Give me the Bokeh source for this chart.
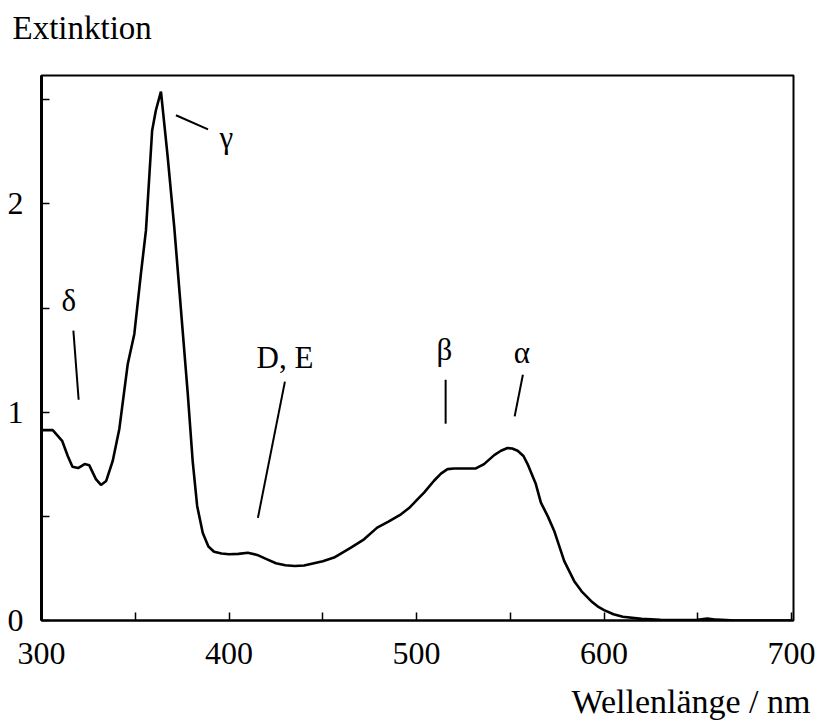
from bokeh.plotting import figure
from bokeh.models import Range1d, FixedTicker, Title
from bokeh.core.properties import value
from bokeh.embed import file_html
from bokeh.resources import INLINE

# ---- data ----
wavelength = [300, 306, 311, 314, 316.5, 319.5, 323, 325.5, 329, 331.7, 334.5, 338, 341.5,
              346, 349.5, 353, 355.7, 359, 361, 363.7, 367.3, 370.8, 374.4, 378, 380.6,
              383, 386, 389, 392, 396, 400, 405, 410, 415, 420, 425, 430, 435, 440, 450,
              456, 465, 472, 479, 485, 491.7, 496, 500.6, 504, 509.3, 513, 516.5, 520,
              523.6, 531.6, 536, 541.4, 545, 548.5, 551, 553.9, 557, 559.2, 563.6, 566.3,
              570, 573.4, 578.7, 584, 588, 593, 597, 600, 605, 610, 620, 630, 640, 650,
              655, 660, 670, 700]
extinction = [0.914, 0.914, 0.863, 0.79, 0.738, 0.732, 0.751, 0.745, 0.679, 0.651, 0.67,
              0.767, 0.92, 1.232, 1.376, 1.664, 1.873, 2.353, 2.45, 2.54, 2.225, 1.888,
              1.488, 1.088, 0.767, 0.55, 0.42, 0.355, 0.33, 0.322, 0.318, 0.32, 0.325,
              0.315, 0.295, 0.275, 0.265, 0.262, 0.264, 0.285, 0.302, 0.35, 0.39, 0.446,
              0.475, 0.51, 0.54, 0.583, 0.614, 0.671, 0.705, 0.727, 0.73, 0.73, 0.73,
              0.751, 0.794, 0.815, 0.828, 0.826, 0.815, 0.79, 0.751, 0.655, 0.566, 0.5,
              0.43, 0.286, 0.19, 0.14, 0.094, 0.065, 0.05, 0.03, 0.018, 0.008, 0.003,
              0.002, 0.003, 0.01, 0.004, 0.0, 0.0]

x_major_ticks = [300, 400, 500, 600, 700]
x_minor_ticks = [350, 450, 550, 650]
y_major_ticks = [0, 1, 2]
y_minor_ticks = [0.5, 1.5, 2.5]

band_names = ["\u03b4", "\u03b3", "D, E", "\u03b2", "\u03b1"]
band_label_x = [314.6, 398.6, 429.8, 514.9, 556.2]
band_label_y = [1.536, 2.32, 1.264, 1.30, 1.288]
lead_x0 = [317.0, 371.7, 429.8, 515.5, 556.7]
lead_y0 = [1.392, 2.426, 1.147, 1.156, 1.180]
lead_x1 = [319.8, 388.8, 415.4, 515.5, 552.3]
lead_y1 = [1.060, 2.358, 0.493, 0.945, 0.980]

FONT = "Liberation Serif"
W, H = 816, 720

p = figure(width=W, height=H, output_backend="svg", toolbar_location=None,
           x_range=Range1d(300, 701), y_range=Range1d(0, 2.617),
           min_border_left=41, min_border_right=W - 793, min_border_top=75,
           min_border_bottom=H - 620)
p.background_fill_color = "white"
p.border_fill_color = "white"
p.outline_line_color = "black"
p.outline_line_width = 2
p.xgrid.visible = False
p.ygrid.visible = False

for ax in (p.xaxis[0], p.yaxis[0]):
    ax.axis_line_color = "black"
    ax.major_tick_in = 8
    ax.major_tick_out = 0
    ax.minor_tick_in = 8
    ax.minor_tick_out = 0
    ax.major_tick_line_width = 1.5
    ax.minor_tick_line_width = 1.5
    ax.major_label_text_font = FONT
    ax.major_label_text_font_size = "32px"
    ax.major_label_text_color = "black"

p.xaxis.ticker = FixedTicker(ticks=x_major_ticks, minor_ticks=x_minor_ticks)
p.yaxis.ticker = FixedTicker(ticks=y_major_ticks, minor_ticks=y_minor_ticks)
p.xaxis.axis_line_width = 2
p.yaxis.axis_line_width = 3
p.xaxis.major_label_standoff = 22
p.yaxis.major_label_standoff = 18

p.line(wavelength, extinction, line_color="black", line_width=2.6)

p.segment(x0=lead_x0, y0=lead_y0, x1=lead_x1, y1=lead_y1, line_color="black", line_width=2)
p.text(x=band_label_x, y=band_label_y, text=band_names, text_font=value(FONT),
       text_font_size="31px", text_align="center", text_baseline="middle",
       text_color="black")

# spacer titles (closest to the frame) push the real titles outward
p.add_layout(Title(text=" ", standoff=22, text_font=FONT, text_font_size="4px"), "above")
p.add_layout(Title(text="Extinktion", align="left", offset=-29, standoff=2,
                   text_font=FONT, text_font_size="33px", text_font_style="normal",
                   text_color="black"), "above")
p.add_layout(Title(text=" ", standoff=7, text_font=FONT, text_font_size="4px"), "below")
p.add_layout(Title(text="Wellenl\u00e4nge / nm", align="right", offset=-17, standoff=0,
                   text_font=FONT, text_font_size="34px", text_font_style="normal",
                   text_color="black"), "below")

open("out.html", "w").write(file_html(p, INLINE))
